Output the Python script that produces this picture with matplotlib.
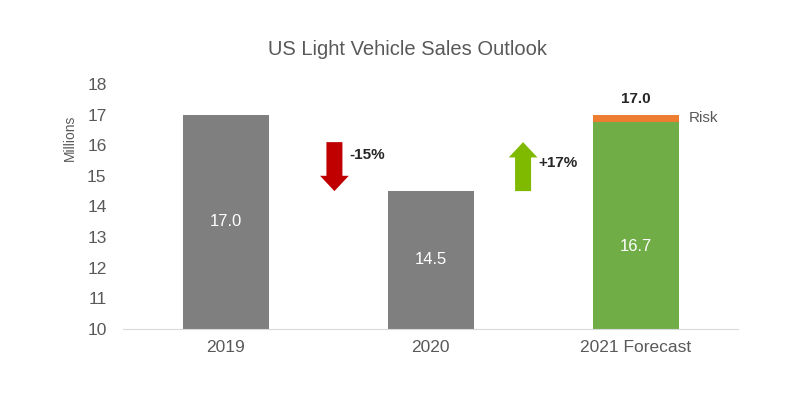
import matplotlib
matplotlib.use("Agg")
import matplotlib.pyplot as plt
from matplotlib.patches import FancyArrow

plt.rcParams["font.family"] = ["Liberation Sans", "DejaVu Sans"]

# data
categories = ["2019", "2020", "2021 Forecast"]
sales = [17.0, 14.5, 16.75]
risk = [0.0, 0.0, 0.25]
bar_labels = ["17.0", "14.5", "16.7"]
label_y = [13.5, 12.25, 12.7]
total_2021 = "17.0"
change_labels = ["-15%", "+17%"]

GRAY = "#7f7f7f"
GREEN = "#70ad47"
ORANGE = "#ed7d31"
TEXT = "#595959"

fig = plt.figure(figsize=(8, 4), dpi=100)
ax = fig.add_axes([0.154, 0.178, 0.769, 0.612])

x = range(len(categories))
colors = [GRAY, GRAY, GREEN]
ax.bar(x, [s - 10 for s in sales], bottom=10, width=0.42, color=colors)
ax.bar(x, risk, bottom=sales, width=0.42, color=ORANGE)

for i, lab in enumerate(bar_labels):
    ax.text(i, label_y[i], lab, ha="center", va="center", color="white", fontsize=12)

ax.text(2, 17.5, total_2021, ha="center", va="center", color="#262626",
        fontsize=11, fontweight="bold")
ax.text(2.26, 16.9, "Risk", ha="left", va="center", color=TEXT, fontsize=11)

# change arrows
ax.add_patch(FancyArrow(0.53, 16.1, 0, -1.6, width=0.078, head_width=0.14,
                        head_length=0.5, length_includes_head=True,
                        color="#c00000", lw=0))
ax.add_patch(FancyArrow(1.45, 14.5, 0, 1.6, width=0.078, head_width=0.14,
                        head_length=0.5, length_includes_head=True,
                        color="#7fba00", lw=0))
ax.text(0.605, 15.68, change_labels[0], ha="left", va="center", color="#262626",
        fontsize=11, fontweight="bold")
ax.text(1.525, 15.42, change_labels[1], ha="left", va="center", color="#262626",
        fontsize=11, fontweight="bold")

ax.set_xlim(-0.5, 2.5)
ax.set_ylim(10, 18)
ax.set_yticks(range(10, 19))
ax.set_xticks(list(x))
ax.set_xticklabels(categories)
ax.tick_params(length=0, labelsize=12.5, colors=TEXT, pad=8)
ax.tick_params(axis="y", pad=12)

for s in ["top", "right", "left"]:
    ax.spines[s].set_visible(False)
ax.spines["bottom"].set_color("#d9d9d9")

ax.set_ylabel("Millions", fontsize=10, color=TEXT)
ax.yaxis.set_label_coords(-0.076, 0.78)

fig.suptitle("US Light Vehicle Sales Outlook", x=0.51, y=0.9, fontsize=14.5, color=TEXT)

fig.savefig("out.png")
